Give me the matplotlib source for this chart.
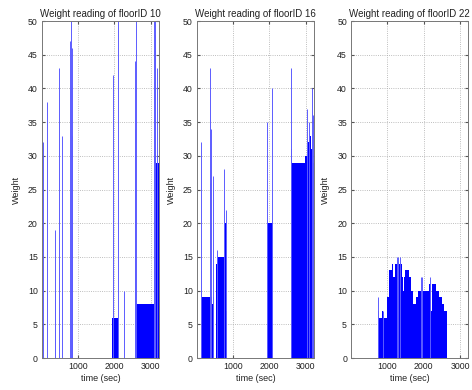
import matplotlib
matplotlib.use('Agg')
import matplotlib.pyplot as plt

plt.rcParams['font.family'] = ['Liberation Sans', 'DejaVu Sans']

floor_ids = [10, 16, 22]

# floor 10: step blocks (edges in sec, weight levels) and single spikes
edges_10 = [1940, 2110, 2560, 2585, 3075, 3095, 3150, 3230]
levels_10 = [6, 0, 9, 8, 28, 30, 29]
spike_t_10 = [35, 146, 370, 378, 480, 560, 790, 805, 825, 840, 1960, 2110,
              2275, 2555, 2565, 2590, 3080, 3090, 3100, 3110, 3180]
spike_w_10 = [32, 38, 19, 10, 43, 33, 47, 60, 46, 33, 42, 60,
              10, 44, 34, 60, 60, 41, 48, 60, 43]

# floor 16
edges_16 = [129, 165, 420, 445, 470, 543, 560, 790, 815, 838, 1925, 2090,
            2587, 2620, 2983, 3060, 3110, 3150, 3200, 3230]
levels_16 = [10, 9, 8, 9, 0, 14, 15, 20, 7, 0, 20, 0,
             31, 29, 30, 32, 33, 31, 29]
spike_t_16 = [130, 135, 370, 380, 395, 450, 560, 765, 820, 1925, 2070,
              2595, 3040, 3100, 3180, 3210]
spike_w_16 = [32, 13, 26, 43, 34, 27, 16, 28, 22, 35, 40,
              43, 37, 35, 40, 36]

# floor 22
edges_22 = [737, 770, 850, 880, 990, 1004, 1059, 1123, 1169, 1215, 1410,
            1440, 1460, 1490, 1610, 1660, 1700, 1780, 1850, 2160, 2205,
            2225, 2350, 2420, 2500, 2560, 2630]
levels_22 = [7, 6, 7, 6, 0, 9, 13, 14, 12, 14, 12,
             10, 12, 13, 12, 10, 8, 9, 10, 11, 7,
             11, 10, 9, 8, 7]
spike_t_22 = [760, 880, 1260, 1300, 1340, 1940, 1960, 2180]
spike_w_22 = [9, 7, 15, 15, 15, 12, 12, 12]

edges = [edges_10, edges_16, edges_22]
levels = [levels_10, levels_16, levels_22]
spike_t = [spike_t_10, spike_t_16, spike_t_22]
spike_w = [spike_w_10, spike_w_16, spike_w_22]

fig = plt.figure(figsize=(4.72, 3.9), dpi=100)
lefts = [0.089, 0.417, 0.744]

for i in range(3):
    ax = fig.add_axes([lefts[i], 0.082, 0.248, 0.864])
    ax.set_axisbelow(True)
    ax.stairs(levels[i], edges[i], fill=True, color='blue', linewidth=0)
    ax.vlines(spike_t[i], 0, spike_w[i], color='#5c5cff', linewidth=0.7)
    ax.set_xlim(10, 3225)
    ax.set_ylim(0, 50)
    ax.set_xticks([1000, 2000, 3000])
    ax.set_yticks(range(0, 51, 5))
    ax.grid(True, linestyle=':', color='#a8a8a8', linewidth=0.6)
    ax.tick_params(direction='in', length=2.5, labelsize=6.3, pad=3,
                   color='#555555', labelcolor='#222222', top=True, right=True)
    for s in ax.spines.values():
        s.set_color('#777777')
        s.set_linewidth(0.7)
    ax.set_title('Weight reading of floorID %d' % floor_ids[i], fontsize=7,
                 pad=3, color='#222222')
    ax.set_xlabel('time (sec)', fontsize=6.5, labelpad=2, color='#222222')
    ax.set_ylabel('Weight', fontsize=6.5, labelpad=5, color='#222222')

plt.savefig('out.png', dpi=100)
